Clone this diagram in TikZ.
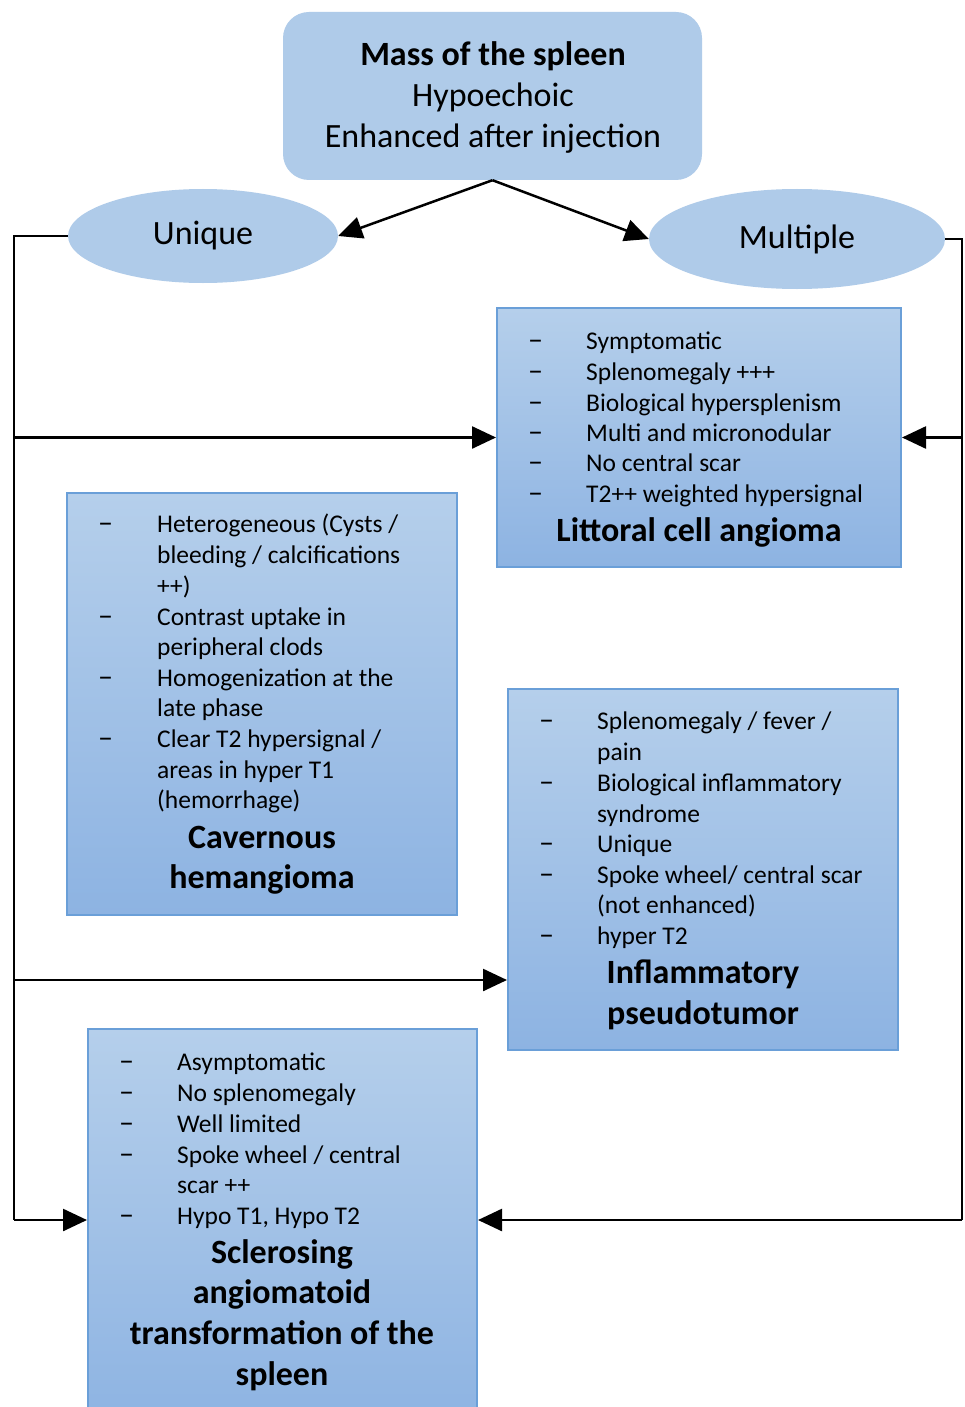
\documentclass[tikz,border=0pt]{standalone}
\usepackage{fontspec}
\setmainfont{Carlito}
\usetikzlibrary{arrows.meta,shapes.geometric}
\definecolor{boxfill}{HTML}{AFCBE9}
\definecolor{gtop}{HTML}{B5CFEB}
\definecolor{gbot}{HTML}{8DB3E2}
\definecolor{gborder}{HTML}{6A9FD8}
\newcommand\bl[5]{\node[dash item] (#1d) at (#2,#4+8) {–}; \node[item] (#1) at (#3,#4+8) {#5};}
\newcommand\cl[4]{\node[item] (#1) at (#2,#3+8) {#4};}
\begin{document}
\begin{tikzpicture}[x=1pt,y=-1pt,
  conn/.style={line width=2.5pt, draw=black},
  arr/.style={conn, -{Triangle[length=24pt,width=22pt]}},
  dbox/.style={draw=gborder, line width=2pt, top color=gtop, bottom color=gbot, rectangle, inner sep=0pt},
  item/.style={anchor=base west, inner sep=0pt, font=\fontsize{25.5}{28}\selectfont},
  dash item/.style={anchor=base west, inner sep=0pt, font=\fontsize{30}{30}\selectfont},
  ttl/.style={anchor=base, inner sep=0pt, font=\bfseries\fontsize{34}{36}\selectfont},
  toptxt/.style={anchor=base, inner sep=0pt, font=\fontsize{34}{36}\selectfont},
  oval/.style={ellipse, fill=boxfill, inner sep=0pt, font=\fontsize{34}{36}\selectfont}]
\useasboundingbox (0,0) rectangle (964,1407);
\fill[white] (0,0) rectangle (964,1407);
% top box
\node[rectangle, rounded corners=26pt, fill=boxfill, minimum width=419pt, minimum height=168pt, inner sep=0pt] (top) at (492.5,96) {};
\node[toptxt, font=\bfseries\fontsize{34}{36}\selectfont] (top1) at (493,66) {Mass of the spleen};
\node[toptxt] (top2) at (493,107) {Hypoechoic};
\node[toptxt] (top3) at (493,148) {Enhanced after injection};
% ellipses
\node[oval, minimum width=270pt, minimum height=94pt] (uniq) at (203,236) {Unique};
\node[oval, minimum width=296pt, minimum height=100pt] (mult) at (797,239) {Multiple};
% boxes
\node[dbox, minimum width=404pt, minimum height=259pt] (lit) at (699,437.5) {};
\node[dbox, minimum width=390pt, minimum height=422pt] (cav) at (262,704) {};
\node[dbox, minimum width=390pt, minimum height=361pt] (infl) at (703,869.5) {};
\node[dbox, minimum width=389pt, minimum height=400pt] (scl) at (282.5,1229) {};
% littoral
\bl{l1}{528}{586}{341}{Symptomatic}
\bl{l2}{528}{586}{372}{Splenomegaly +++}
\bl{l3}{528}{586}{403}{Biological hypersplenism}
\bl{l4}{528}{586}{433}{Multi and micronodular}
\bl{l5}{528}{586}{463}{No central scar}
\bl{l6}{528}{586}{494}{T2++ weighted hypersignal}
\node[ttl] (lt) at (699,541) {Littoral cell angioma};
% cavernous
\bl{c1}{98}{157}{524}{Heterogeneous (Cysts /}
\cl{c2}{157}{555}{bleeding / calcifications}
\cl{c3}{157}{586}{++)}
\bl{c4}{98}{157}{617}{Contrast uptake in}
\cl{c5}{157}{647}{peripheral clods}
\bl{c6}{98}{157}{678}{Homogenization at the}
\cl{c7}{157}{708}{late phase}
\bl{c8}{98}{157}{739}{Clear T2 hypersignal /}
\cl{c9}{157}{770}{areas in hyper T1}
\cl{c10}{157}{800}{(hemorrhage)}
\node[ttl] (ct1) at (262,848) {Cavernous};
\node[ttl] (ct2) at (262,888) {hemangioma};
% inflammatory
\bl{i1}{539}{597}{721}{Splenomegaly / fever /}
\cl{i2}{597}{752}{pain}
\bl{i3}{539}{597}{783}{Biological inflammatory}
\cl{i4}{597}{814}{syndrome}
\bl{i5}{539}{597}{844}{Unique}
\bl{i6}{539}{597}{875}{Spoke wheel/ central scar}
\cl{i7}{597}{905}{(not enhanced)}
\bl{i8}{539}{597}{936}{hyper T2}
\node[ttl] (it1) at (703,983) {Inflammatory};
\node[ttl] (it2) at (703,1024) {pseudotumor};
% sclerosing
\bl{s1}{119}{177}{1062}{Asymptomatic}
\bl{s2}{119}{177}{1093}{No splenomegaly}
\bl{s3}{119}{177}{1124}{Well limited}
\bl{s4}{119}{177}{1155}{Spoke wheel / central}
\cl{s5}{177}{1185}{scar ++}
\bl{s6}{119}{177}{1216}{Hypo T1, Hypo T2}
\node[ttl] (st1) at (282,1263) {Sclerosing};
\node[ttl] (st2) at (282,1303) {angiomatoid};
\node[ttl] (st3) at (282,1344) {transformation of the};
\node[ttl] (st4) at (282,1385) {spleen};
% connectors
\coordinate (L1) at (14,437.5);
\coordinate (L2) at (14,980);
\coordinate (L3) at (14,1220);
\coordinate (L0) at (uniq.west -| L3);
\coordinate (R1) at (962,437.5);
\coordinate (R3) at (962,1220);
\coordinate (R0) at (mult.east -| R3);
\draw[arr] (top.south) -- (uniq.east);
\draw[arr] (top.south) -- (mult.west);
\draw[conn] (uniq.west) -- (L0) -- (L3);
\draw[arr] (L1) -- (lit.west);
\draw[arr] (L2) -- (infl.west |- L2);
\draw[arr] (L3) -- (scl.west |- L3);
\draw[conn] (mult.east) -- (R0) -- (R3);
\draw[arr] (R1) -- (lit.east);
\draw[arr] (R3) -- (scl.east |- R3);
\end{tikzpicture}
\end{document}
